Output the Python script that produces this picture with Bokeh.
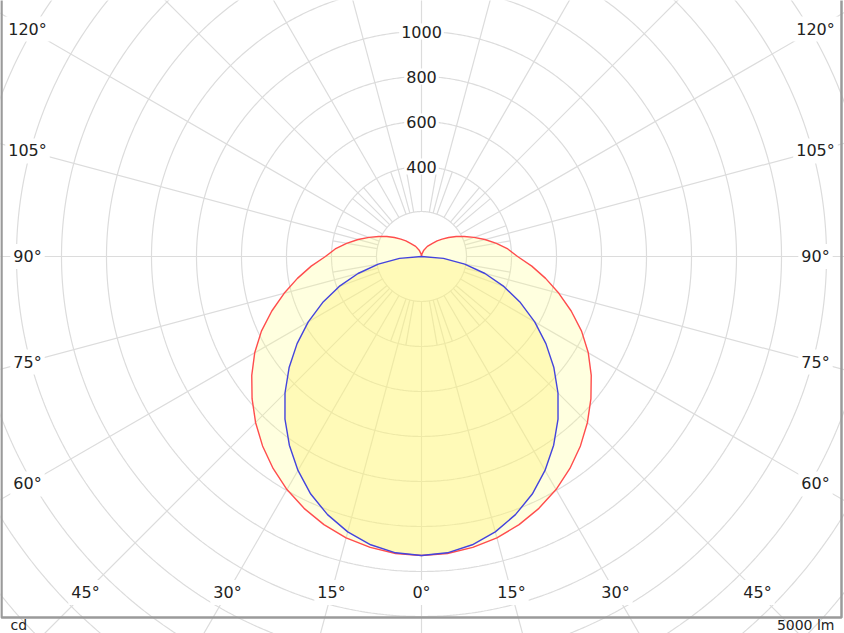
import numpy as np
from bokeh.plotting import figure
from bokeh.models import Range1d
from bokeh.embed import file_html
from bokeh.resources import INLINE
from bokeh.core.properties import value

# ---------------- data ----------------
# C0-C180 plane (blue), gamma angles (deg from nadir) and intensity (cd)
gamma_c0 = [0, 5, 10, 15, 20, 25, 30, 35, 40, 45, 50, 55, 60, 65, 70, 75, 80, 85, 90]
cd_c0 = [1329, 1322, 1301, 1267, 1221, 1165, 1098, 1024, 944, 858, 768, 675, 581, 485, 389, 292, 195, 98, 0]

# C90-C270 plane (red)
gamma_c90 = [0, 5, 10, 15, 20, 25, 30, 35, 40, 45, 50, 55, 60, 65, 70, 75, 80, 85, 90,
             95, 100, 105, 110, 115, 120, 125, 130, 135, 140, 150, 160, 170, 180]
cd_c90 = [1329, 1325, 1313, 1295, 1268, 1235, 1196, 1150, 1099, 1043, 983, 921, 856, 785, 708,
          632, 560, 492, 427, 385, 338, 292, 248, 210, 178, 147, 120, 98, 76, 52, 30, 12, 0]

ring_values = [200, 400, 600, 800, 1000, 1200, 1400, 1600, 1800, 2000, 2200, 2400, 2600]
ring_labels = ["400", "600", "800", "1000"]
angle_ticks = [0, 15, 30, 45, 60, 75, 90, 105, 120]
unit_left = "cd"
unit_right = "5000 lm"

# ---------------- geometry (pixels) ----------------
W, H = 844, 633
CX, CY = 421, 256          # centre of diagram in pixels
PX_PER_CD = 45 / 200.0     # ring spacing
LAB_HALF_W = 394           # label box half width
LAB_BOTTOM = 336           # label row below centre
FRAME_L, FRAME_R, FRAME_B = 1, 841, 617

def sx(px):
    return (px - CX) / PX_PER_CD

def sy(py):
    return (CY - py) / PX_PER_CD

p = figure(width=W, height=H, output_backend="svg", toolbar_location=None,
           x_range=Range1d(sx(0), sx(W)), y_range=Range1d(sy(H), sy(0)),
           min_border=0, outline_line_color=None)
p.axis.visible = False
p.grid.visible = False
p.background_fill_color = "white"
p.border_fill_color = "white"

GRID = "#dcdcdc"

# rings
t = np.linspace(0, 2 * np.pi, 721)
for rv in ring_values:
    p.line(rv * np.cos(t), rv * np.sin(t), line_color=GRID, line_width=1.2)

# spokes every 15 deg from inner ring outward
far = 4000
for a in range(0, 360, 15):
    ar = np.radians(a)
    p.line([200 * np.sin(ar), far * np.sin(ar)], [-200 * np.cos(ar), -far * np.cos(ar)],
           line_color=GRID, line_width=1.2)
# finer spokes near the centre
for a in range(0, 360, 10):
    if a % 15 == 0:
        continue
    ar = np.radians(a)
    p.line([200 * np.sin(ar), 400 * np.sin(ar)], [-200 * np.cos(ar), -400 * np.cos(ar)],
           line_color=GRID, line_width=1.2)

# curves
def closed_curve(gammas, cds):
    g = np.array(gammas, dtype=float)
    c = np.array(cds, dtype=float)
    gg = np.concatenate([-g[::-1], g[1:]])
    cc = np.concatenate([c[::-1], c[1:]])
    gr = np.radians(gg)
    return cc * np.sin(gr), -cc * np.cos(gr)

rx, ry = closed_curve(gamma_c90, cd_c90)
bx, by = closed_curve(gamma_c0, cd_c0)
p.patch(rx, ry, fill_color="#ffff80", fill_alpha=0.25, line_color=None)
p.patch(bx, by, fill_color="#fff070", fill_alpha=0.35, line_color=None)
p.line(rx, ry, line_color="#ff4d4d", line_width=1.4)
p.line(bx, by, line_color="#4444dd", line_width=1.4)

# ring labels
p.text(x=[0] * len(ring_labels), y=[float(v) for v in ring_labels], text=ring_labels,
       text_font=value("DejaVu Sans"), text_font_size="16px", text_color="#222222",
       text_align="center", text_baseline="middle",
       background_fill_color="white", padding=2)

# angle labels
lx, ly, lt = [], [], []
for a in angle_ticks:
    ar = np.radians(a)
    for side in ([1] if a == 0 else [-1, 1]):
        s, c = np.sin(ar), np.cos(ar)
        cands = []
        if s > 1e-9:
            cands.append(LAB_HALF_W / s)
        if c > 1e-9:
            cands.append(LAB_BOTTOM / c)
        tt = min(cands)
        px = CX + side * s * tt
        py = CY + c * tt
        lx.append(sx(px))
        ly.append(sy(py))
        lt.append(f"{a}°")
p.text(x=lx, y=ly, text=lt, text_font=value("DejaVu Sans"), text_font_size="16px",
       text_color="#222222", text_align="center", text_baseline="middle",
       background_fill_color="white", padding=3)

# frame
p.line([sx(FRAME_L), sx(FRAME_L), sx(FRAME_R), sx(FRAME_R)],
       [sy(-10), sy(FRAME_B), sy(FRAME_B), sy(-10)],
       line_color="#9a9a9a", line_width=2.5)

# unit labels
p.text(x=[sx(10)], y=[sy(632)], text=[unit_left], text_font=value("DejaVu Sans"),
       text_font_size="14px", text_color="#222222", text_align="left", text_baseline="bottom")
p.text(x=[sx(834)], y=[sy(632)], text=[unit_right], text_font=value("DejaVu Sans"),
       text_font_size="14px", text_color="#222222", text_align="right", text_baseline="bottom")

open("out.html", "w").write(file_html(p, INLINE))
